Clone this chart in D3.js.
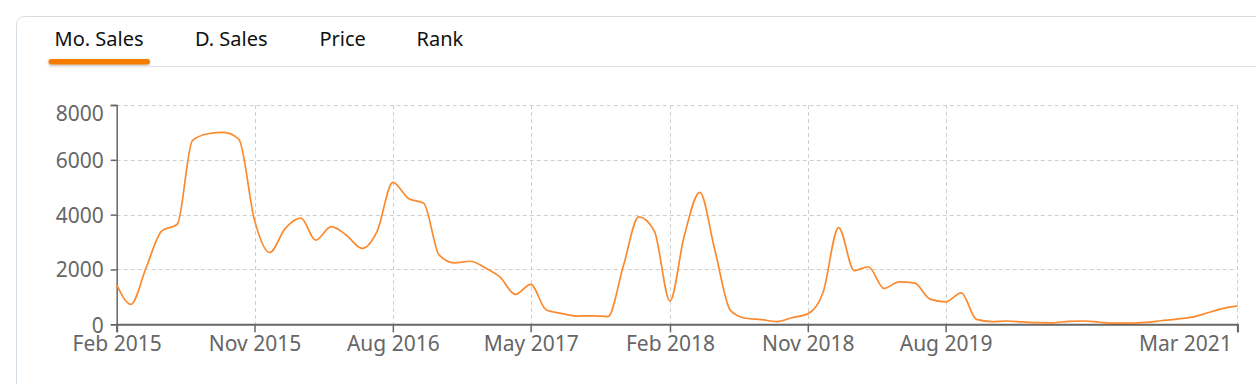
<!DOCTYPE html>
<html>
<head>
<meta charset="utf-8">
<script src="https://cdn.jsdelivr.net/npm/d3@7"></script>
<style>
  html, body { margin: 0; padding: 0; background: #fff; }
  svg { display: block; }
</style>
</head>
<body>
<svg id="chart" width="1256" height="384"></svg>
<script>
// ---- data ----
const tabs = ["Mo. Sales", "D. Sales", "Price", "Rank"];
const startMonth = "2015-02-01";
const sales = [
  1450, 730, 2100, 3400, 3650, 6700, 6950, 7000, 6750, 3800,
  2620, 3500, 3870, 3070, 3560, 3250, 2770, 3400, 5180, 4590,
  4420, 2520, 2240, 2300, 2050, 1730, 1090, 1460, 520, 400,
  300, 310, 280, 2150, 3920, 3400, 850, 3200, 4810, 2700,
  500, 220, 170, 100, 240, 380, 1150, 3530, 1960, 2100,
  1310, 1550, 1500, 920, 820, 1150, 180, 100, 120, 85,
  60, 55, 110, 120, 75, 40, 40, 70, 130, 190,
  260, 420, 580, 670
];
const xTickDates = ["2015-02-01", "2015-11-01", "2016-08-01", "2017-05-01", "2018-02-01", "2018-11-01", "2019-08-01", "2021-03-01"];
const xTickLabels = ["Feb 2015", "Nov 2015", "Aug 2016", "May 2017", "Feb 2018", "Nov 2018", "Aug 2019", "Mar 2021"];
const yTicks = [0, 2000, 4000, 6000, 8000];

// ---- layout ----
const svg = d3.select("#chart");
const font = "'Noto Sans', 'Open Sans', sans-serif";
const plotL = 116.7, plotR = 1237.4, plotT = 105, plotB = 324.3;

// card
svg.append("rect")
  .attr("x", 16.5).attr("y", 16.5).attr("width", 1400).attr("height", 600)
  .attr("rx", 8).attr("fill", "#fff").attr("stroke", "#d5dde4").attr("stroke-width", 1);

// separator under tabs
svg.append("line").attr("x1", 150).attr("x2", 1256).attr("y1", 66.5).attr("y2", 66.5)
  .attr("stroke", "#d8e0e6").attr("stroke-width", 1);

// tabs
const tabX = [54.5, 195, 319.5, 416.5];
svg.selectAll("text.tab").data(tabs).join("text")
  .attr("class", "tab")
  .attr("x", (d, i) => tabX[i]).attr("y", 46)
  .attr("font-family", font).attr("font-size", 20).attr("fill", "#0f1111")
  .text(d => d);

// active underline with shadow
const defs = svg.append("defs");
const f = defs.append("filter").attr("id", "sh").attr("x", "-10%").attr("y", "-50%").attr("width", "120%").attr("height", "250%");
f.append("feDropShadow").attr("dx", 0).attr("dy", 1.5).attr("stdDeviation", 1.2).attr("flood-color", "#000").attr("flood-opacity", 0.25);
svg.append("rect").attr("x", 48.5).attr("y", 59).attr("width", 101.5).attr("height", 5.5)
  .attr("rx", 2.75).attr("fill", "#f57c00").attr("filter", "url(#sh)");

// scales
const parse = d3.utcParse("%Y-%m-%d");
const start = parse(startMonth);
const points = sales.map((v, i) => ({ date: d3.utcMonth.offset(start, i), value: v }));
const x = d3.scaleUtc().domain([start, parse(xTickDates[xTickDates.length - 1])]).range([plotL, plotR]);
const y = d3.scaleLinear().domain([0, 8000]).range([plotB, plotT]);

// grid
const grid = svg.append("g").attr("stroke", "#cfcfcf").attr("stroke-width", 1).attr("stroke-dasharray", "4 3");
grid.selectAll("line.h").data(yTicks.filter(d => d > 0)).join("line")
  .attr("x1", plotL).attr("x2", plotR)
  .attr("y1", d => Math.round(y(d)) + 0.5).attr("y2", d => Math.round(y(d)) + 0.5);
grid.selectAll("line.v").data(xTickDates.slice(1)).join("line")
  .attr("x1", d => Math.round(x(parse(d))) + 0.5).attr("x2", d => Math.round(x(parse(d))) + 0.5)
  .attr("y1", plotT).attr("y2", plotB);

// y axis
const yAxis = svg.append("g").attr("transform", `translate(${plotL},0)`)
  .call(d3.axisLeft(y).tickValues(yTicks).tickSize(6).tickPadding(7).tickFormat(d3.format("d")));
yAxis.select(".domain").attr("stroke", "#666").attr("stroke-width", 1.5);
yAxis.selectAll(".tick line").attr("stroke", "#666").attr("stroke-width", 1.5);
yAxis.selectAll(".tick text")
  .attr("font-family", font).attr("font-size", 21).attr("fill", "#666")
  .attr("dy", d => d === 8000 ? "0.72em" : (d === 0 ? "0.4em" : "0.35em"));

// x axis
const xAxis = svg.append("g").attr("transform", `translate(0,${plotB})`)
  .call(d3.axisBottom(x).tickValues(xTickDates.map(parse)).tickSize(8).tickPadding(4)
    .tickFormat((d, i) => xTickLabels[i]));
xAxis.select(".domain").attr("stroke", "#666").attr("stroke-width", 2);
xAxis.selectAll(".tick line").attr("stroke", "#666").attr("stroke-width", 1.5);
xAxis.selectAll(".tick text")
  .attr("font-family", font).attr("font-size", 21).attr("fill", "#666")
  .attr("dy", "0.72em");
xAxis.selectAll(".tick").filter((d, i) => i === xTickDates.length - 1).select("text")
  .attr("text-anchor", "end").attr("x", -6);

// line
const line = d3.line().x(d => x(d.date)).y(d => y(d.value)).curve(d3.curveMonotoneX);
svg.append("path").datum(points)
  .attr("d", line).attr("fill", "none").attr("stroke", "#fb8a2e").attr("stroke-width", 1.7);
</script>
</body>
</html>
